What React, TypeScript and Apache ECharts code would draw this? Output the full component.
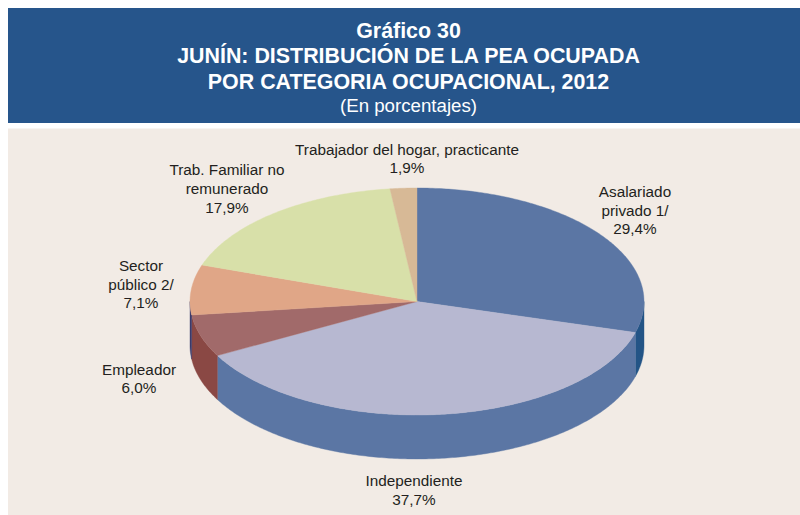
import React, { useEffect, useRef } from "react";
import * as echarts from "echarts";

const categories = [
  "Asalariado\nprivado 1/",
  "Independiente",
  "Empleador",
  "Sector\npúblico 2/",
  "Trab. Familiar no\nremunerado",
  "Trabajador del hogar, practicante",
];
const values = [29.4, 37.7, 6.0, 7.1, 17.9, 1.9];
const topColors = ["#5b76a4", "#b7b8d1", "#a16a6a", "#e0a687", "#d8e0a9", "#d7b996"];
const sideColors = ["#235486", "#5b76a4", "#8a4844", "#3b3b6b", "#a8b070", "#a08a60"];
const labelCenters: [number, number][] = [
  [635, 210],
  [414, 490],
  [139, 378.5],
  [141, 284],
  [227, 188.5],
  [407, 158.5],
];
const titleLines = [
  "Gráfico 30",
  "JUNÍN: DISTRIBUCIÓN DE LA PEA OCUPADA",
  "POR CATEGORIA OCUPACIONAL, 2012",
];
const subtitle = "(En porcentajes)";

const CX = 417;
const CY = 301.5;
const RX = 227;
const RY = 113.5;
const DEPTH = 44;
const FONT = '"Liberation Sans", Arial, sans-serif';
const total = values.reduce((a, b) => a + b, 0);

function pt(deg: number, dy = 0): number[] {
  const a = (deg * Math.PI) / 180;
  return [CX + RX * Math.sin(a), CY - RY * Math.cos(a) + dy];
}
function arc(from: number, to: number, dy = 0): number[][] {
  const n = Math.max(2, Math.ceil(Math.abs(to - from) * 1.5));
  const out: number[][] = [];
  for (let i = 0; i <= n; i++) out.push(pt(from + ((to - from) * i) / n, dy));
  return out;
}

function renderItem(params: any, api: any) {
  const i = params.dataIndex;
  let before = 0;
  for (let k = 0; k < i; k++) before += values[k];
  const start = (before / total) * 360;
  const end = ((before + api.value(0)) / total) * 360;
  const children: any[] = [];
  const s = Math.max(start, 90);
  const e = Math.min(end, 270);
  if (e > s) {
    const pts = [...arc(s, e), ...arc(e, s, DEPTH)];
    children.push({
      type: "polygon",
      shape: { points: pts },
      style: { fill: sideColors[i], stroke: sideColors[i], lineWidth: 0.4 },
    });
  }
  children.push({
    type: "polygon",
    shape: { points: [[CX, CY], ...arc(start, end)] },
    style: { fill: topColors[i], stroke: topColors[i], lineWidth: 0.4 },
  });
  const [lx, ly] = labelCenters[i];
  children.push({
    type: "text",
    x: lx,
    y: ly,
    style: {
      text: `${categories[i]}\n${api.value(0).toFixed(1).replace(".", ",")}%`,
      align: "center",
      verticalAlign: "middle",
      font: `15.3px ${FONT}`,
      lineHeight: 18.6,
      fill: "#231f20",
    },
  });
  return { type: "group", children };
}

export default function App() {
  const ref = useRef<HTMLDivElement>(null);
  useEffect(() => {
    document.body.style.margin = "0";
    const chart = echarts.init(ref.current!, undefined, { renderer: "svg" });
    chart.setOption({
      animation: false,
      backgroundColor: "#ffffff",
      title: [
        ...titleLines.map((t, i) => ({
          text: t,
          left: 408.5,
          top: [20, 45.5, 71.5][i],
          textAlign: "center",
          padding: 0,
          textStyle: { color: "#ffffff", fontFamily: FONT, fontWeight: "bold", fontSize: 21.4 },
        })),
        {
          text: subtitle,
          left: 408.5,
          top: 96,
          textAlign: "center",
          padding: 0,
          textStyle: { color: "#ffffff", fontFamily: FONT, fontWeight: "normal", fontSize: 18.7 },
        },
      ],
      graphic: [
        { type: "rect", z: -1, shape: { x: 8, y: 8, width: 792, height: 115 }, style: { fill: "#26558b" } },
        { type: "rect", z: -1, shape: { x: 8, y: 128.5, width: 792, height: 386.5 }, style: { fill: "#f2ebe5" } },
      ],
      series: [
        {
          type: "custom",
          coordinateSystem: "none",
          renderItem,
          silent: true,
          data: values.map((v) => [v]),
        },
      ],
    });
    return () => chart.dispose();
  }, []);
  return <div ref={ref} style={{ position: "absolute", left: 0, top: 0, width: 800, height: 515 }} />;
}
